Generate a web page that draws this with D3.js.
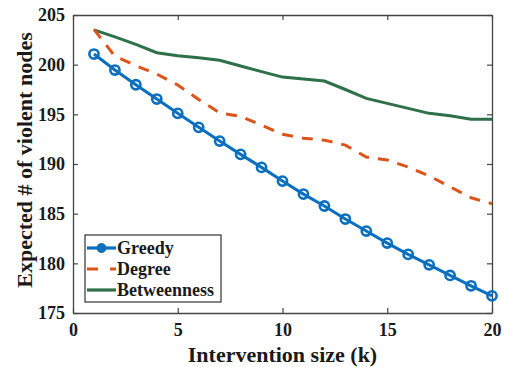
<!DOCTYPE html>
<html>
<head>
<meta charset="utf-8">
<script src="https://cdn.jsdelivr.net/npm/d3@7"></script>
<style>
  body { margin: 0; background: #fff; }
  text { font-family: "Liberation Serif", "Times New Roman", Times, serif; font-weight: bold; fill: #1a1a1a; }
  .axis path, .axis line { stroke: #444; }
</style>
</head>
<body>
<div id="chart"></div>
<script>
var ks = d3.range(1, 21);
var greedy = [201.07, 199.46, 197.98, 196.54, 195.1, 193.69, 192.31, 190.97, 189.66, 188.28,
              186.97, 185.77, 184.46, 183.25, 182.04, 180.9, 179.85, 178.78, 177.74, 176.73];
var degree = [203.55, 200.85, 199.9, 199.05, 197.95, 196.5, 195.15, 194.8, 193.9, 193.0,
              192.6, 192.4, 191.9, 190.7, 190.4, 189.7, 188.8, 187.7, 186.6, 186.0];
var betweenness = [203.5, 202.8, 202.05, 201.2, 200.9, 200.7, 200.45, 199.86, 199.3, 198.75,
                   198.55, 198.35, 197.5, 196.6, 196.1, 195.6, 195.1, 194.85, 194.5, 194.5];
var xTicks = [0, 5, 10, 15, 20],
    yTicks = [175, 180, 185, 190, 195, 200, 205];
var seriesNames = ["Greedy", "Degree", "Betweenness"];

var geom = {margin: {top: 15, right: 14, bottom: 54, left: 73}, width: 419, height: 298};
var margin = geom.margin, width = geom.width, height = geom.height;
var serif = "'Liberation Serif', 'Times New Roman', serif";

var x = d3.scaleLinear().domain([0, 20]).range([0, width]),
    y = d3.scaleLinear().domain([175, 205]).range([height, 0]);

var svg = d3.select("#chart").append("svg")
    .attr("width", width + margin.left + margin.right)
    .attr("height", height + margin.top + margin.bottom);

var g = svg.append("g")
    .attr("transform", "translate(" + margin.left + "," + margin.top + ")");

/* inward ticks on all four sides, like a boxed matlab axes */
var gX = g.append("g").attr("class", "axis")
    .attr("transform", "translate(0," + height + ")")
    .call(d3.axisBottom(x).tickValues(xTicks).tickSizeInner(-5).tickSizeOuter(0).tickPadding(10));
var gY = g.append("g").attr("class", "axis")
    .call(d3.axisLeft(y).tickValues(yTicks).tickSizeInner(-5).tickSizeOuter(0).tickPadding(8));
g.append("g").attr("class", "axis")
    .call(d3.axisTop(x).tickValues(xTicks).tickSizeInner(-5).tickSizeOuter(0).tickFormat(""));
g.append("g").attr("class", "axis")
    .attr("transform", "translate(" + width + ",0)")
    .call(d3.axisRight(y).tickValues(yTicks).tickSizeInner(-5).tickSizeOuter(0).tickFormat(""));

g.selectAll(".axis").attr("font-family", serif);
g.selectAll(".axis path").attr("stroke-width", 1.3);
g.selectAll(".axis line").attr("stroke-width", 1.2);
g.selectAll(".axis text").attr("font-size", 18).attr("fill", "#1a1a1a");
gX.selectAll("text").attr("dy", "0.71em");

var colors = {Greedy: "#0a6fbf", Degree: "#dd5318", Betweenness: "#2d7049"};

function lineOf(vals) {
  return d3.line()
    .x(function(d, i) { return x(ks[i]); })
    .y(function(d) { return y(d); })(vals);
}

g.append("path")
    .attr("d", lineOf(betweenness))
    .attr("fill", "none")
    .attr("stroke", colors.Betweenness)
    .attr("stroke-width", 3);

g.append("path")
    .attr("d", lineOf(degree))
    .attr("fill", "none")
    .attr("stroke", colors.Degree)
    .attr("stroke-width", 3)
    .attr("stroke-dasharray", "11,9");

g.append("path")
    .attr("d", lineOf(greedy))
    .attr("fill", "none")
    .attr("stroke", colors.Greedy)
    .attr("stroke-width", 3);

g.selectAll(".dot")
    .data(greedy)
  .enter().append("circle")
    .attr("class", "dot")
    .attr("cx", function(d, i) { return x(ks[i]); })
    .attr("cy", function(d) { return y(d); })
    .attr("r", 4.6)
    .attr("fill", "none")
    .attr("stroke", colors.Greedy)
    .attr("stroke-width", 2.6);

/* legend */
var leg = g.append("g").attr("transform", "translate(12,220)");
leg.append("rect")
    .attr("width", 136).attr("height", 67)
    .attr("fill", "#fff").attr("stroke", "#333").attr("stroke-width", 1.2);

seriesNames.forEach(function(name, i) {
  var ly = 13 + i * 21;
  var ln = leg.append("line")
      .attr("x1", 2).attr("x2", 31).attr("y1", ly).attr("y2", ly)
      .attr("stroke", colors[name]).attr("stroke-width", 3.2);
  if (name === "Degree") ln.attr("stroke-dasharray", "11,12");
  if (name === "Greedy") {
    leg.append("circle").attr("cx", 16.5).attr("cy", ly).attr("r", 4.5)
        .attr("fill", colors[name]).attr("stroke", colors[name]);
  }
  leg.append("text")
      .attr("x", 32).attr("y", ly).attr("dy", "0.35em")
      .attr("font-family", serif)
      .attr("font-size", 18)
      .text(name);
});

svg.append("text")
    .attr("x", margin.left + width / 2)
    .attr("y", 362)
    .attr("text-anchor", "middle")
    .attr("font-family", serif)
    .attr("font-size", 22)
    .text("Intervention size (k)");

svg.append("text")
    .attr("transform", "rotate(-90)")
    .attr("x", -160)
    .attr("y", 32)
    .attr("text-anchor", "middle")
    .attr("font-family", serif)
    .attr("font-size", 22)
    .text("Expected # of violent nodes");
</script>
</body>
</html>
